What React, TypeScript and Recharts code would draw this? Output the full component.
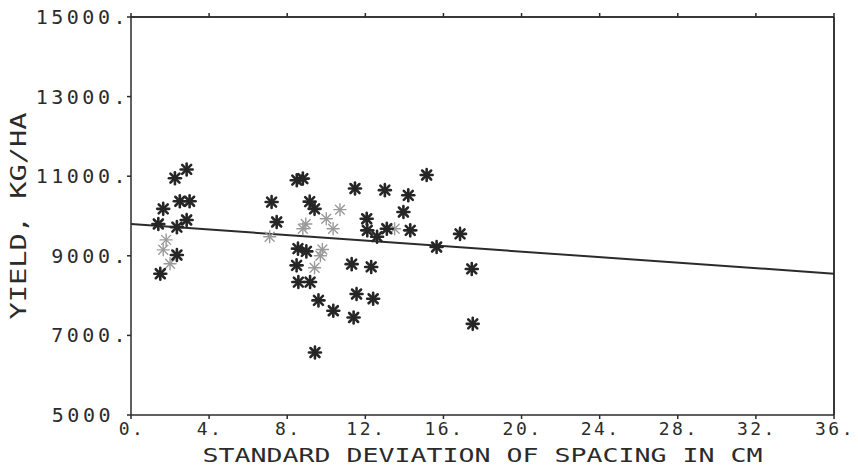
import React from 'react';
import { ScatterChart, Scatter, XAxis, YAxis, ReferenceLine } from 'recharts';

// Standard deviation of spacing (cm) and yield (kg/ha) for dark plotted points
const darkSD = [2.85, 2.25, 1.65, 2.5, 3.0, 2.85, 1.4, 2.35, 2.35, 1.5,
  7.2, 7.46, 8.49, 8.8, 9.15, 9.4, 11.47, 13.0, 12.07, 12.1, 13.1, 12.6, 8.55, 8.98, 8.48, 11.3, 12.3, 8.57, 9.17, 9.6, 11.55, 12.4, 10.36, 11.4, 9.42,
  15.14, 14.2, 13.95, 14.3, 16.85, 15.65, 17.45, 17.5];
const darkYield = [11170, 10950, 10180, 10370, 10370, 9900, 9800, 9720, 9020, 8550,
  10350, 9850, 10900, 10940, 10360, 10180, 10690, 10650, 9930, 9640, 9680, 9480, 9180, 9110, 8760, 8790, 8720, 8340, 8340, 7880, 8040, 7920, 7620, 7450, 6570,
  11030, 10520, 10100, 9640, 9550, 9220, 8670, 7290];

// Faint (lightly printed) points
const faintSD = [1.65, 2.0, 1.8, 7.1, 10.0, 10.7, 10.35, 8.95, 8.8, 9.4, 9.8, 9.7, 13.5];
const faintYield = [9150, 8800, 9400, 9480, 9930, 10160, 9680, 9800, 9680, 8700, 9160, 9000, 9680];

// Regression line end points
const fitSD = [0, 36];
const fitYield = [9800, 8550];

const xTicks = [0, 4, 8, 12, 16, 20, 24, 28, 32, 36];
const yTicks = [5000, 7000, 9000, 11000, 13000, 15000];
const xTickLabels = ['0.', '4.', '8.', '12.', '16.', '20.', '24.', '28.', '32.', '36.'];
const yTickLabels = ['5000', '7000.', '9000.', '11000.', '13000.', '15000.'];
const X_MAX = 36;
const Y_MAX = 15000;

const darkData = darkSD.map((x, i) => ({ x, y: darkYield[i] }));
const faintData = faintSD.map((x, i) => ({ x, y: faintYield[i] }));

const FONT = '"DejaVu Sans Mono", monospace';
const INK = '#2b2b2b';

const Star = (props: any) => {
  const { cx, cy, color, w } = props;
  if (cx == null || cy == null) return null;
  const r = 6;
  const d = r * 0.75;
  return (
    <g stroke={color} strokeWidth={w} strokeLinecap="round">
      <line x1={cx - r} y1={cy} x2={cx + r} y2={cy} />
      <line x1={cx} y1={cy - r} x2={cx} y2={cy + r} />
      <line x1={cx - d} y1={cy - d} x2={cx + d} y2={cy + d} />
      <line x1={cx - d} y1={cy + d} x2={cx + d} y2={cy - d} />
    </g>
  );
};

const YTick = (props: any) => {
  const { x, y, payload } = props;
  const i = yTicks.indexOf(payload.value);
  const label = yTickLabels[i];
  const shift = label.endsWith('.') ? 0 : -15;
  return (
    <text x={x + 4 + shift} y={y} dy={7} textAnchor="end" fontFamily={FONT} fontSize={20}
      letterSpacing={3.5} fill={INK}>
      {label}
    </text>
  );
};

const XTick = (props: any) => {
  const { x, y, payload } = props;
  const i = xTicks.indexOf(payload.value);
  return (
    <text x={x + 1} y={y} dy={14} textAnchor="middle" fontFamily={FONT} fontSize={18}
      letterSpacing={2.5} fill={INK}>
      {xTickLabels[i]}
    </text>
  );
};

const NoMark = () => <g />;

export default function App() {
  return (
    <div style={{ position: 'absolute', left: 0, top: 0, background: '#fff' }}>
      <ScatterChart width={858} height={470} margin={{ top: 12, right: 23, bottom: 0, left: 0 }}>
        <XAxis
          xAxisId="b"
          type="number"
          dataKey="x"
          domain={[0, X_MAX]}
          ticks={xTicks}
          height={55}
          stroke={INK}
          strokeWidth={1.5}
          tickSize={4}
          tick={<XTick />}
          label={{
            content: (p: any) => {
              const vb = p.viewBox;
              return (
                <text x={vb.x + vb.width / 2} y={vb.y + 47} textAnchor="middle" fontFamily={FONT}
                  fontSize={19} fill={INK} textLength={560} lengthAdjust="spacingAndGlyphs">
                  STANDARD DEVIATION OF SPACING IN CM
                </text>
              );
            },
          }}
        />
        <XAxis
          xAxisId="t"
          orientation="top"
          type="number"
          dataKey="x"
          domain={[0, X_MAX]}
          ticks={xTicks}
          height={5}
          stroke={INK}
          strokeWidth={1.5}
          tickSize={4}
          tickMargin={0}
          tick={<NoMark />}
        />
        <YAxis
          yAxisId="l"
          type="number"
          dataKey="y"
          domain={[5000, Y_MAX]}
          ticks={yTicks}
          width={131}
          stroke={INK}
          strokeWidth={1.5}
          tickSize={4}
          tick={<YTick />}
          label={{
            content: (p: any) => {
              const vb = p.viewBox;
              const cx = 18;
              const cy = vb.y + vb.height / 2;
              return (
                <text x={cx} y={cy} dy={8} textAnchor="middle" fontFamily={FONT} fontSize={22}
                  fill={INK} transform={`rotate(-90 ${cx} ${cy})`} textLength={207}
                  lengthAdjust="spacingAndGlyphs">
                  YIELD, KG/HA
                </text>
              );
            },
          }}
        />
        <YAxis
          yAxisId="r"
          orientation="right"
          type="number"
          dataKey="y"
          domain={[5000, Y_MAX]}
          ticks={yTicks}
          width={1}
          stroke={INK}
          strokeWidth={1.5}
          tickLine={false}
          tick={false}
        />
        <ReferenceLine xAxisId="b" yAxisId="l" y={Y_MAX} stroke={INK} strokeWidth={1.5} ifOverflow="visible" />
        <ReferenceLine xAxisId="b" yAxisId="l" x={X_MAX} stroke={INK} strokeWidth={1.5} ifOverflow="visible" />
        <ReferenceLine
          xAxisId="b"
          yAxisId="l"
          segment={[{ x: fitSD[0], y: fitYield[0] }, { x: fitSD[1], y: fitYield[1] }]}
          stroke={INK}
          strokeWidth={2}
          ifOverflow="visible"
        />
        <Scatter xAxisId="t" yAxisId="r" data={darkData} isAnimationActive={false}
          shape={<NoMark />} />
        <Scatter xAxisId="b" yAxisId="l" data={faintData} isAnimationActive={false}
          shape={(p: any) => <Star {...p} color="#9a9a9a" w={1.4} />} />
        <Scatter xAxisId="b" yAxisId="l" data={darkData} isAnimationActive={false}
          shape={(p: any) => <Star {...p} color="#262626" w={2.6} />} />
      </ScatterChart>
    </div>
  );
}
